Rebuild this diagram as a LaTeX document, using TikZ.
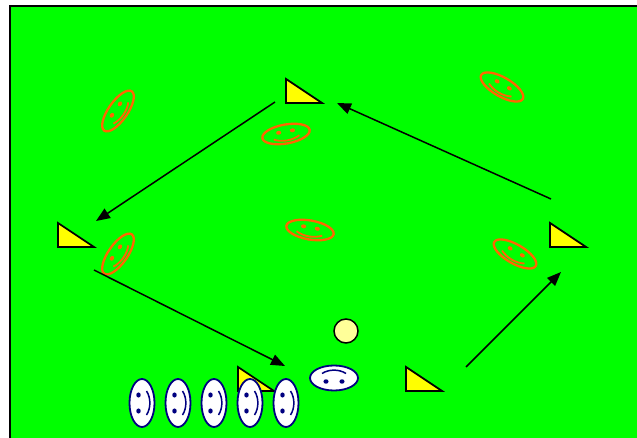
\documentclass[tikz,border=0pt]{standalone}
\usetikzlibrary{arrows.meta}
\definecolor{field}{RGB}{0,255,0}
\definecolor{coneyellow}{RGB}{255,255,0}
\definecolor{ballyellow}{RGB}{255,255,153}
\definecolor{orangeline}{RGB}{255,102,0}
\definecolor{navyline}{RGB}{0,0,128}
\tikzset{
  conepic/.pic={\draw[line width=1.8pt, fill=coneyellow, line join=miter] (0,0) -- (0,24) -- (36,24) -- cycle;},
  orangeplayer/.pic={
    \draw[orangeline, line width=2.3pt] (0,0) ellipse [x radius=24, y radius=9.5];
    \fill[orangeline] (-7,-2.5) ellipse [x radius=2.6, y radius=2];
    \fill[orangeline] (7,-2.5) ellipse [x radius=2.6, y radius=2];
    \draw[orangeline, line width=1.8pt] (-13,3.5) .. controls (-5,7.5) and (5,7.5) .. (13,3.5);
  },
  whiteplayer/.pic={
    \draw[navyline, line width=1.8pt, fill=white] (0,0) ellipse [x radius=24, y radius=12.5];
    \fill[navyline] (-8,-3.5) ellipse [x radius=2.6, y radius=2.2];
    \fill[navyline] (8,-3.5) ellipse [x radius=2.6, y radius=2.2];
    \draw[navyline, line width=1.5pt] (-12,4.5) .. controls (-5,9) and (5,9) .. (12,4.5);
  },
  arrowline/.style={line width=1.5pt, -{Triangle[length=14pt,width=11pt]}},
}
\begin{document}
\begin{tikzpicture}[x=1pt,y=-1pt]
\useasboundingbox (0,0) rectangle (637,438);
\clip (0,0) rectangle (637,438);
\fill[field] (10,7) rectangle (650,450);
\draw[line width=2pt] (10,450) -- (10,6.5) -- (650,6.5);
% cones
\pic (c1) at (286,79) {conepic};
\pic (c2) at (58,223) {conepic};
\pic (c3) at (550,223) {conepic};
\pic (c4) at (406,367) {conepic};
\pic (c5) at (238,367) {conepic};
% orange players
\pic[rotate=55] (o1) at (118,111) {orangeplayer};
\pic[rotate=10] (o2) at (286,134) {orangeplayer};
\pic[rotate=55] (o3) at (118,254) {orangeplayer};
\pic[rotate=-10] (o4) at (310,230) {orangeplayer};
\pic[rotate=-30] (o5) at (502,87) {orangeplayer};
\pic[rotate=-30] (o6) at (515,254) {orangeplayer};
% ball
\node[circle, draw, line width=1.5pt, fill=ballyellow, minimum size=24pt, inner sep=0pt] (ball) at (346,331) {};
% white players
\pic[rotate=180] (w0) at (334,378) {whiteplayer};
\pic[rotate=90] (w1) at (142,403) {whiteplayer};
\pic[rotate=90] (w2) at (178,403) {whiteplayer};
\pic[rotate=90] (w3) at (214,403) {whiteplayer};
\pic[rotate=90] (w4) at (250,403) {whiteplayer};
\pic[rotate=90] (w5) at (286,403) {whiteplayer};
% arrows
\coordinate (a1s) at (275,102); \coordinate (a1e) at (96,221);
\coordinate (a2s) at (94,270);  \coordinate (a2e) at (285,366);
\coordinate (a3s) at (466,367); \coordinate (a3e) at (561,272);
\coordinate (a4s) at (551,199); \coordinate (a4e) at (337,103);
\draw[arrowline] (a1s) -- (a1e);
\draw[arrowline] (a2s) -- (a2e);
\draw[arrowline] (a3s) -- (a3e);
\draw[arrowline] (a4s) -- (a4e);
\end{tikzpicture}
\end{document}
